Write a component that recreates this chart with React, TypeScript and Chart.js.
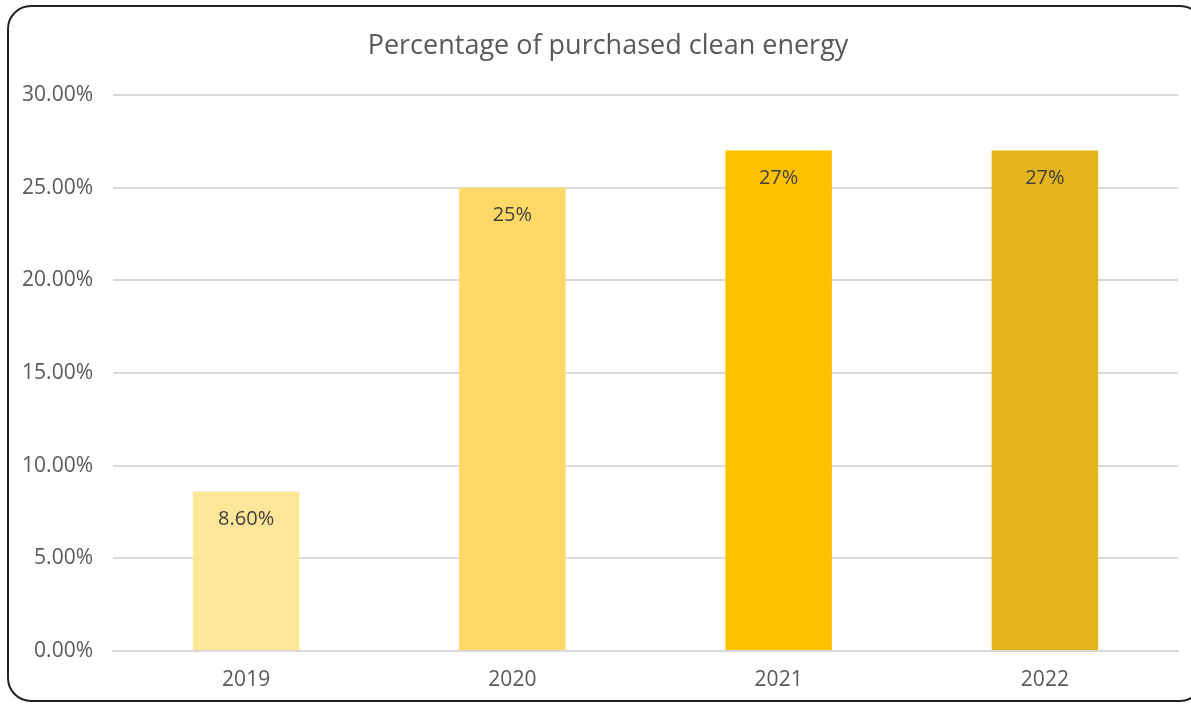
import React, { useEffect, useRef } from "react";
import { Chart, registerables } from "chart.js";

Chart.register(...registerables);

const categories = ["2019", "2020", "2021", "2022"];
const values = [0.086, 0.25, 0.27, 0.27];
const valueLabels = ["8.60%", "25%", "27%", "27%"];
const barColors = ["#FFE699", "#FFD966", "#FFC000", "#E4B41C"];
const titleText = "Percentage of purchased clean energy";
const FONT = "'Open Sans', sans-serif";

const labelPlugin = {
  id: "insideEndLabels",
  afterDatasetsDraw(chart: any) {
    const ctx = chart.ctx;
    const meta = chart.getDatasetMeta(0);
    ctx.save();
    ctx.font = `20px ${FONT}`;
    ctx.fillStyle = "#404040";
    ctx.textAlign = "center";
    ctx.textBaseline = "middle";
    meta.data.forEach((bar: any, i: number) => {
      ctx.fillText(valueLabels[i], bar.x, bar.y + 28);
    });
    ctx.restore();
  },
};

const titlePlugin = {
  id: "customTitle",
  afterDraw(chart: any) {
    const ctx = chart.ctx;
    ctx.save();
    ctx.font = `27px ${FONT}`;
    ctx.fillStyle = "#595959";
    ctx.textAlign = "center";
    ctx.textBaseline = "middle";
    ctx.fillText(titleText, 608, 46);
    ctx.restore();
  },
};

export default function App() {
  const ref = useRef<HTMLCanvasElement>(null);
  useEffect(() => {
    const chart = new Chart(ref.current!, {
      type: "bar",
      data: {
        labels: categories,
        datasets: [
          {
            data: values,
            backgroundColor: barColors,
            barPercentage: 0.4,
            categoryPercentage: 1,
          },
        ],
      },
      options: {
        animation: false,
        responsive: false,
        devicePixelRatio: 1,
        layout: { padding: { left: 0, right: 13, top: 95, bottom: 0 } },
        plugins: {
          legend: { display: false },
          tooltip: { enabled: false },
          title: { display: false },
        },
        scales: {
          x: {
            grid: { display: false, drawTicks: false },
            border: { display: true, color: "#D9D9D9", width: 2 },
            ticks: { color: "#595959", font: { family: FONT, size: 21 }, padding: 16 },
            afterFit: (s: any) => {
              s.height = 53;
            },
          },
          y: {
            min: 0,
            max: 0.3,
            grid: { color: "#D9D9D9", lineWidth: 2, drawTicks: false },
            border: { display: false },
            ticks: {
              stepSize: 0.05,
              color: "#595959",
              font: { family: FONT, size: 21 },
              padding: 20,
              callback: (v: any) => (Number(v) * 100).toFixed(2) + "%",
            },
            afterFit: (s: any) => {
              s.width = 113;
            },
          },
        },
      },
      plugins: [labelPlugin, titlePlugin],
    });
    return () => chart.destroy();
  }, []);
  return (
    <div style={{ position: "fixed", left: 0, top: 0, width: 1191, height: 704, background: "#fff", overflow: "hidden" }}>
      <canvas ref={ref} width={1191} height={704} style={{ position: "absolute", left: 0, top: 0 }} />
      <div
        style={{
          position: "absolute",
          left: 7,
          top: 5,
          width: 1197,
          height: 697,
          border: "2px solid #222",
          borderRadius: 24,
          boxSizing: "border-box",
          pointerEvents: "none",
        }}
      />
    </div>
  );
}
